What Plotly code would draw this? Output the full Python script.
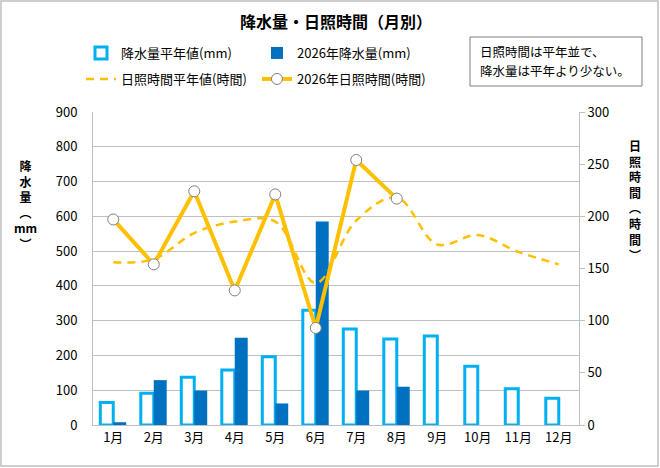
import plotly.graph_objects as go

# 月別データ
months = ["1月", "2月", "3月", "4月", "5月", "6月", "7月", "8月", "9月", "10月", "11月", "12月"]
rain_normal = [65, 91, 137, 158, 196, 330, 276, 247, 256, 169, 104, 77]
rain_2026 = [8, 129, 99, 251, 62, 585, 99, 110, None, None, None, None]
sun_normal = [156, 159, 184, 195, 195, 136, 196, 218, 173, 182, 166, 154]
sun_2026 = [197, 154, 224, 129, 221, 93, 254, 217, None, None, None, None]
note_lines = ["日照時間は平年並で、", "降水量は平年より少ない。"]

FONT = "Noto Sans CJK JP, sans-serif"
LIGHT_BLUE = "#00B0F0"
DARK_BLUE = "#0070C0"
YELLOW = "#FFC000"
GRID = "#BFBFBF"

W, H = 660, 468
ML, MR, MT, MB = 93, 81, 112, 43
PW, PH = W - ML - MR, H - MT - MB


def px_x(x):
    return (x - ML) / PW


def px_y(y):
    return (H - MB - y) / PH


def legend_at(x, y):
    # 凡例を1項目ずつ配置する
    return dict(orientation="h", x=px_x(x), y=px_y(y), xanchor="left", yanchor="middle",
                font=dict(size=13), bgcolor="rgba(0,0,0,0)")


fig = go.Figure()

# 降水量（棒）
fig.add_trace(go.Bar(
    x=months, y=rain_normal, name="降水量平年値(mm)",
    marker=dict(color="white", line=dict(color=LIGHT_BLUE, width=3)),
    legend="legend",
))
fig.add_trace(go.Bar(
    x=months, y=rain_2026, name="2026年降水量(mm)",
    marker=dict(color=DARK_BLUE, line=dict(width=0)),
    legend="legend2",
))

# 日照時間（線）
fig.add_trace(go.Scatter(
    x=months, y=sun_normal, name="日照時間平年値(時間)", yaxis="y2",
    mode="lines", line=dict(color=YELLOW, width=2.5, dash="8px,6px", shape="spline"),
    legend="legend3",
))
fig.add_trace(go.Scatter(
    x=months, y=sun_2026, name="2026年日照時間(時間)", yaxis="y2",
    mode="lines+markers", line=dict(color=YELLOW, width=4),
    marker=dict(size=11, color="white", line=dict(color="#7F7F7F", width=1)),
    legend="legend4",
))

fig.update_layout(
    width=W, height=H, autosize=False,
    margin=dict(l=ML, r=MR, t=MT, b=MB),
    paper_bgcolor="white", plot_bgcolor="white",
    font=dict(family=FONT, size=13, color="black"),
    title=dict(text="<b>降水量・日照時間（月別）</b>", x=0.5, xref="paper",
               y=1 - 22 / H, yanchor="middle", font=dict(size=16)),
    barmode="group", bargap=0.36, bargroupgap=0,
    showlegend=True,
    legend=legend_at(81, 53),
    legend2=legend_at(257, 53),
    legend3=legend_at(81, 79),
    legend4=legend_at(257, 79),
    xaxis=dict(range=[-0.5, 11.5], showline=True, linecolor=GRID, linewidth=1, ticks="",
               tickfont=dict(size=13)),
    yaxis=dict(range=[0, 900], dtick=100, showgrid=True, gridcolor=GRID, gridwidth=1,
               showline=True, linecolor=GRID, zeroline=False, ticks="",
               ticklabelstandoff=12, tickfont=dict(size=13)),
    yaxis2=dict(range=[0, 300], dtick=50, overlaying="y", side="right", showgrid=False,
                showline=True, linecolor=GRID, zeroline=False, ticks="outside",
                ticklen=5, tickcolor=GRID, tickfont=dict(size=13)),
)

# 軸タイトル（縦書き）
fig.add_annotation(text="<b>降<br>水<br>量<br>︵<br>mm<br>︶</b>", xref="paper", yref="paper",
                   x=px_x(25), y=px_y(204), showarrow=False, font=dict(size=12),
                   xanchor="center", yanchor="middle")
fig.add_annotation(text="<b>日<br>照<br>時<br>間<br>︵<br>時<br>間<br>︶</b>", xref="paper", yref="paper",
                   x=px_x(635), y=px_y(200), showarrow=False, font=dict(size=12),
                   xanchor="center", yanchor="middle")

# コメント枠
fig.add_shape(type="rect", xref="paper", yref="paper",
              x0=px_x(470), x1=px_x(642), y0=px_y(86), y1=px_y(37),
              line=dict(color="#7F7F7F", width=1), fillcolor="white")
for i, line in enumerate(note_lines):
    fig.add_annotation(text=line, xref="paper", yref="paper",
                       x=px_x(478), y=px_y(52 + 18 * i), showarrow=False,
                       font=dict(size=12.5), xanchor="left", yanchor="middle")

# 外枠
fig.add_shape(type="rect", xref="paper", yref="paper",
              x0=px_x(1), x1=px_x(W - 2), y0=px_y(H - 2), y1=px_y(1),
              line=dict(color="#BFBFBF", width=1.5), layer="below")

# ページ既定の余白をなくす
fig.write_html("out.html", config={"displayModeBar": False},
               post_script="document.body.style.margin='0';")
